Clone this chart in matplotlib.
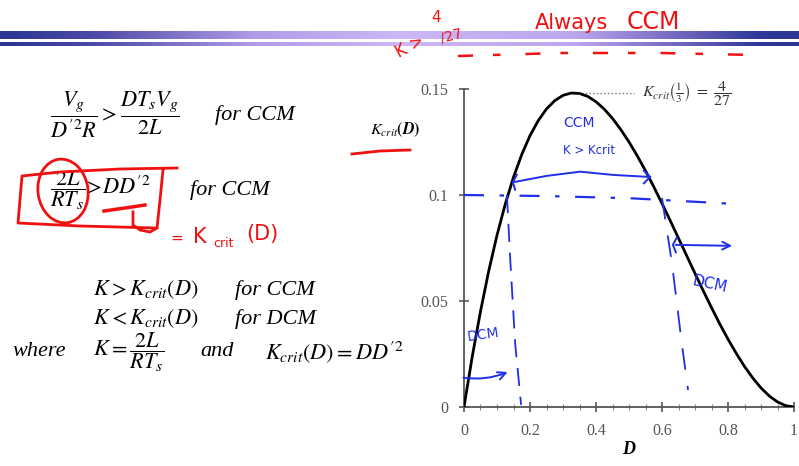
import matplotlib

matplotlib.use("Agg")
import matplotlib.pyplot as plt  # noqa: E402
import numpy as np  # noqa: E402
from matplotlib.colors import LinearSegmentedColormap  # noqa: E402
from matplotlib.patches import Ellipse, FancyArrowPatch  # noqa: E402

plt.rcParams["mathtext.fontset"] = "stix"
plt.rcParams["font.family"] = ["Liberation Serif", "DejaVu Serif"]

# K_crit(D) curve, values
duty = [0, 0.025, 0.05, 0.075, 0.1, 0.125, 0.15, 0.175, 0.2, 0.225, 0.25, 0.275, 0.3,
        0.325, 0.35, 0.375, 0.4, 0.425, 0.45, 0.475, 0.5, 0.525, 0.55, 0.575, 0.6,
        0.625, 0.65, 0.675, 0.7, 0.725, 0.75, 0.775, 0.8, 0.825, 0.85, 0.875, 0.9,
        0.925, 0.95, 0.975, 1.0]
kcrit = [0, 0.0238, 0.0451, 0.0642, 0.081, 0.0957, 0.1084, 0.1191, 0.128, 0.1351,
         0.1406, 0.1445, 0.147, 0.1481, 0.1479, 0.1465, 0.144, 0.1405, 0.1361, 0.1309,
         0.125, 0.1185, 0.1114, 0.1039, 0.096, 0.0879, 0.0796, 0.0713, 0.063, 0.0548,
         0.0469, 0.0392, 0.032, 0.0253, 0.0191, 0.0137, 0.009, 0.0052, 0.0024, 0.0006, 0]
x_ticks = [0, 0.2, 0.4, 0.6, 0.8, 1]
x_labels = ["0", "0.2", "0.4", "0.6", "0.8", "1"]
y_ticks = [0, 0.05, 0.1, 0.15]
y_labels = ["0", "0.05", "0.1", "0.15"]
peak_d, peak_k = 0.345, 0.148
peak_label = r"$K_{crit}\left(\frac{1}{3}\right)\ =\ \dfrac{4}{27}$"

# hand-drawn blue notes on the plot (data units)
k_line_d = [0.0, 0.25, 0.5, 0.82]
k_line_k = [0.1, 0.0995, 0.0985, 0.0958]
ccm_arrow_d = [0.148, 0.25, 0.352, 0.45, 0.564]
ccm_arrow_k = [0.106, 0.109, 0.111, 0.1095, 0.1085]
left_cut_d = [0.13, 0.14, 0.155, 0.173]
left_cut_k = [0.1, 0.07, 0.03, 0.001]
right_cut_d = [0.60, 0.63, 0.66, 0.679]
right_cut_k = [0.0986, 0.068, 0.03, 0.008]

# hand-drawn red notes on the slide (pixels)
red_dash_x = [458, 560, 660, 755]
red_dash_y = [56, 53, 53, 55]
box_x = [177, 120, 60, 22, 18, 80, 157, 160, 163]
box_y = [168, 169, 172, 176, 223, 226, 228, 200, 170]

BLUE = "#1f2ee8"
RED = "#f01010"

fig = plt.figure(figsize=(7.99, 4.66), dpi=100)

# slide overlay in pixel units
ov = fig.add_axes([0, 0, 1, 1])
ov.axis("off")

band = LinearSegmentedColormap.from_list("band", [
    (0.0, "#2a3692"), (0.12, "#4d4ca8"), (0.32, "#b29ce8"), (0.5, "#cdb7f6"),
    (0.72, "#bca6ee"), (0.86, "#6c62bd"), (0.95, "#2f3a98"), (1.0, "#2a3692")])
grad = np.linspace(0, 1, 400).reshape(1, -1)
ov.imshow(grad, cmap=band, aspect="auto", extent=[0, 799, 39, 31], zorder=1)
ov.imshow(grad, cmap=band, aspect="auto", extent=[0, 799, 46, 42], zorder=1)
ov.set_xlim(0, 799); ov.set_ylim(466, 0)

# equations
MS = 16
ov.text(50, 115, r"$\dfrac{V_g}{D^{\prime 2}R} > \dfrac{DT_sV_g}{2L}$", fontsize=MS, va="center")
ov.text(215, 115, "for CCM", fontsize=MS, style="italic", va="center")
ov.text(50, 190, r"$\dfrac{2L}{RT_s}\!>\!DD^{\prime 2}$", fontsize=MS, va="center")
ov.text(190, 190, "for CCM", fontsize=MS, style="italic", va="center")
ov.text(93, 290, r"$K > K_{crit}(D)$", fontsize=MS, va="center")
ov.text(235, 290, "for CCM", fontsize=MS, style="italic", va="center")
ov.text(93, 319, r"$K < K_{crit}(D)$", fontsize=MS, va="center")
ov.text(235, 319, "for DCM", fontsize=MS, style="italic", va="center")
ov.text(12, 352, "where", fontsize=MS, style="italic", va="center")
ov.text(93, 352, r"$K = \dfrac{2L}{RT_s}$", fontsize=MS, va="center")
ov.text(200, 352, "and", fontsize=MS, style="italic", va="center")
ov.text(265, 352, r"$K_{crit}(D) = DD^{\prime 2}$", fontsize=MS, va="center")
ov.text(370, 130, r"$\boldsymbol{K_{crit}(D)}$", fontsize=11.5, va="center")

# red handwriting
hw = dict(color=RED, family="DejaVu Sans", zorder=5)
ov.text(410, 47, "K >", fontsize=12, rotation=28, ha="center", va="center", **hw)
ov.text(436, 17, "4", fontsize=11, ha="center", va="center", **hw)
ov.text(451, 36, "/27", fontsize=10, rotation=15, ha="center", va="center", **hw)
ov.text(535, 23, "Always", fontsize=15, ha="left", va="center", **hw)
ov.text(627, 22, "CCM", fontsize=17, ha="left", va="center", **hw)
ov.plot(red_dash_x, red_dash_y, color=RED, lw=1.8, dashes=(6, 8, 3, 10), zorder=5)
ov.plot([352, 380, 410], [154, 151, 150], color=RED, lw=2, zorder=5)
ov.plot(box_x, box_y, color=RED, lw=2, zorder=5)
ov.plot([133, 133, 140, 150, 157], [212, 225, 230, 232, 228], color=RED, lw=2, zorder=5)
ov.add_patch(Ellipse((63, 191), 50, 64, angle=-8, fill=False, ec=RED, lw=2, zorder=5))
ov.plot([104, 125, 145], [211, 208, 205], color=RED, lw=2.5, zorder=5)
ov.text(170, 243, "=", fontsize=11, va="baseline", **hw)
ov.text(193, 243, "K", fontsize=15, va="baseline", **hw)
ov.text(213, 247, "crit", fontsize=9, va="baseline", **hw)
ov.text(246, 240, "(D)", fontsize=15, va="baseline", **hw)

# plot
ax = fig.add_axes([464 / 799, 59 / 466, 330 / 799, 318 / 466])
ax.patch.set_alpha(0)
ax.plot(duty, kcrit, color="black", lw=2, zorder=3)
ax.plot([peak_d, 0.515], [peak_k, peak_k], ls=":", color="#777777", lw=1)
ax.text(0.54, peak_k, peak_label, fontsize=11.5, va="center", color="#333333")
ax.set_xlim(0, 1); ax.set_ylim(0, 0.15)
for s in ("top", "right"):
    ax.spines[s].set_visible(False)
for s in ("left", "bottom"):
    ax.spines[s].set_color("#555555"); ax.spines[s].set_linewidth(1.3)
ax.set_xticks(x_ticks, x_labels)
ax.set_yticks(y_ticks, y_labels)
ax.set_xticks(np.arange(0, 1.001, 0.05), minor=True)
ax.tick_params(which="major", direction="inout", length=7, width=1.2, color="#555555",
               labelsize=11.5, labelcolor="#555555", pad=8)
ax.tick_params(which="minor", direction="inout", length=4, width=0.8, color="#888888")
ax.text(0.5, -0.135, "D", transform=ax.transAxes, ha="center", va="center",
        fontsize=13, fontweight="bold", style="italic")

# blue handwriting
ax.plot(k_line_d, k_line_k, color=BLUE, lw=1.6, dashes=(9, 7, 2, 7), clip_on=False, zorder=4)
ax.plot(ccm_arrow_d, ccm_arrow_k, color=BLUE, lw=1.4, zorder=4)
ax.plot([0.545, 0.564, 0.545], [0.1115, 0.1085, 0.1055], color=BLUE, lw=1.4, zorder=4)
ax.plot([0.16, 0.148, 0.155], [0.1095, 0.106, 0.1025], color=BLUE, lw=1.4, zorder=4)
ax.plot(left_cut_d, left_cut_k, color=BLUE, lw=1.3, dashes=(10, 6), zorder=4)
ax.plot(right_cut_d, right_cut_k, color=BLUE, lw=1.3, dashes=(12, 9), zorder=4)
ax.add_patch(FancyArrowPatch((0.633, 0.0765), (0.821, 0.076), arrowstyle="->",
                             mutation_scale=14, color=BLUE, lw=1.4, clip_on=False, zorder=4))
ax.plot([0.645, 0.633, 0.642], [0.08, 0.0765, 0.073], color=BLUE, lw=1.4, zorder=4)
ax.add_patch(FancyArrowPatch((-0.01, 0.014), (0.14, 0.017), arrowstyle="->",
                             connectionstyle="arc3,rad=0.15", mutation_scale=14,
                             color=BLUE, lw=1.4, clip_on=False, zorder=4))
bw = dict(color=BLUE, family="DejaVu Sans", ha="center", va="center", zorder=4)
ax.text(0.35, 0.134, "CCM", fontsize=10, **bw)
ax.text(0.38, 0.121, "K > Kcrit", fontsize=8.5, **bw)
ax.text(0.745, 0.058, "DCM", fontsize=11, rotation=-12, **bw)
ax.text(0.057, 0.034, "DCM", fontsize=10, rotation=8, **bw)

fig.savefig("out.png", dpi=100)
